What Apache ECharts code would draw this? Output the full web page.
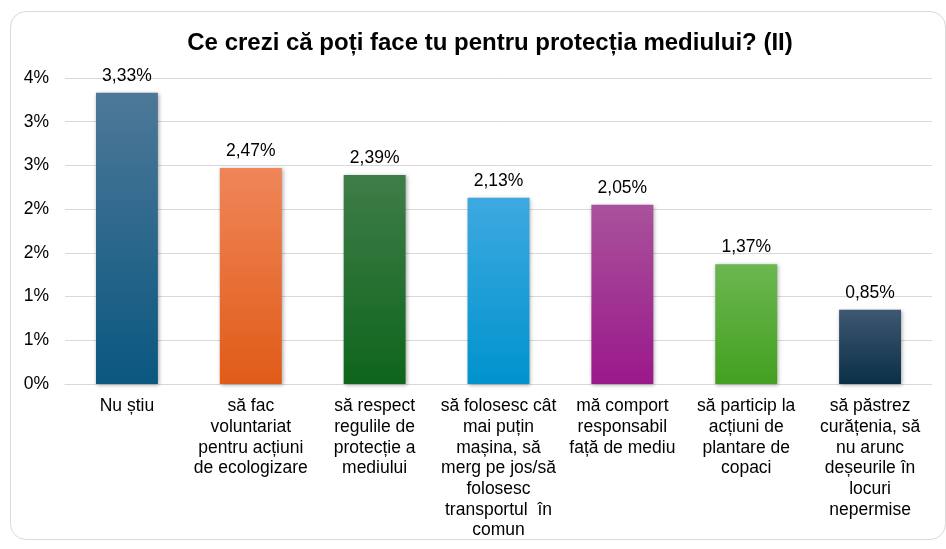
<!DOCTYPE html>
<html>
<head>
<meta charset="utf-8">
<script src="https://cdn.jsdelivr.net/npm/echarts@6/dist/echarts.min.js"></script>
<style>
  html, body { margin: 0; padding: 0; background: #fff; }
  #frame {
    position: absolute; left: 10px; top: 11px; width: 936px; height: 529px;
    border: 1.5px solid #d9d9d9; border-radius: 16px; box-sizing: border-box;
  }
  #chart { position: absolute; left: 0; top: 0; width: 946px; height: 549px; }
</style>
</head>
<body>
<div id="frame"></div>
<div id="chart"></div>
<script>
const titleText = 'Ce crezi că poți face tu pentru protecția mediului? (II)'

const categories = [
  'Nu știu',
  'să fac\nvoluntariat\npentru acțiuni\nde ecologizare',
  'să respect\nregulile de\nprotecție a\nmediului',
  'să folosesc cât\nmai puțin\nmașina, să\nmerg pe jos/să\nfolosesc\ntransportul  în\ncomun',
  'mă comport\nresponsabil\nfață de mediu',
  'să particip la\nacțiuni de\nplantare de\ncopaci',
  'să păstrez\ncurățenia, să\nnu arunc\ndeșeurile în\nlocuri\nnepermise'
]

const values = [3.33, 2.47, 2.39, 2.13, 2.05, 1.37, 0.85]

// gradient colours per bar, top -> bottom
const topColors = ['#4d7898', '#ef8658', '#3f7d48', '#3ea9e0', '#a9529b', '#6bb751', '#3e5870']
const bottomColors = ['#0a5780', '#e05b18', '#0e651c', '#0093cd', '#9a188b', '#43a020', '#0a2f47']

const yTicks = [0, 0.5, 1, 1.5, 2, 2.5, 3, 3.5]

const chart = echarts.init(document.getElementById('chart'), null, { renderer: 'canvas' })

const font = 'Liberation Sans, Arial, sans-serif'

chart.setOption({
  animation: false,
  title: {
    text: titleText,
    left: 485,
    textAlign: 'center',
    top: 26,
    textStyle: { fontFamily: font, fontSize: 24, fontWeight: 'bold', color: '#000' }
  },
  grid: { left: 65, right: 14, top: 78, bottom: 165 },
  xAxis: {
    type: 'category',
    data: categories,
    axisTick: { show: false },
    axisLine: { lineStyle: { color: '#d9d9d9', width: 1 } },
    axisLabel: {
      interval: 0,
      margin: 12,
      fontFamily: font,
      fontSize: 17.5,
      lineHeight: 20.7,
      color: '#000',
      align: 'center'
    }
  },
  yAxis: {
    type: 'value',
    min: yTicks[0],
    max: yTicks[yTicks.length - 1],
    interval: 0.5,
    axisLine: { show: false },
    axisTick: { show: false },
    splitLine: { lineStyle: { color: '#d9d9d9', width: 1 } },
    axisLabel: {
      margin: 16,
      fontFamily: font,
      fontSize: 17.5,
      color: '#000',
      formatter: v => Math.round(v) + '%'
    }
  },
  series: [{
    type: 'bar',
    barWidth: '50%',
    data: values.map((v, i) => ({
      value: v,
      itemStyle: {
        color: new echarts.graphic.LinearGradient(0, 0, 0, 1, [
          { offset: 0, color: topColors[i] },
          { offset: 1, color: bottomColors[i] }
        ]),
        shadowColor: 'rgba(0,0,0,0.35)',
        shadowBlur: 4,
        shadowOffsetX: 1,
        shadowOffsetY: 1
      }
    })),
    label: {
      show: true,
      position: 'top',
      distance: 8,
      fontFamily: font,
      fontSize: 17.5,
      color: '#000',
      formatter: p => p.value.toFixed(2).replace('.', ',') + '%'
    }
  }]
})
</script>
</body>
</html>
